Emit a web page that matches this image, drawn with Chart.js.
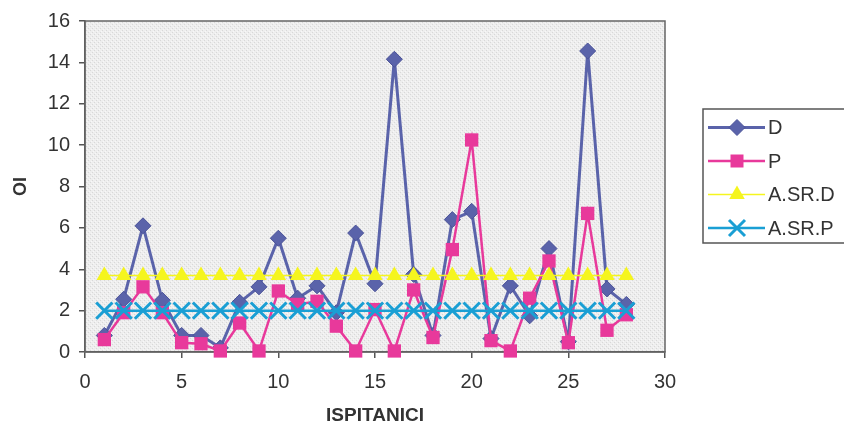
<!DOCTYPE html>
<html>
<head>
<meta charset="utf-8">
<script src="https://cdn.jsdelivr.net/npm/chart.js@4.4.0/dist/chart.umd.min.js"></script>
<style>
  html, body { margin: 0; padding: 0; background: #ffffff; }
  canvas { display: block; }
</style>
</head>
<body>
<canvas id="c" width="844" height="428"></canvas>
<script>
// ---- data ----
const xValues = [1, 2, 3, 4, 5, 6, 7, 8, 9, 10, 11, 12, 13, 14, 15, 16, 17, 18, 19, 20, 21, 22, 23, 24, 25, 26, 27, 28];
const dValues = [0.8, 2.55, 6.1, 2.5, 0.8, 0.8, 0.2, 2.4, 3.15, 5.5, 2.6, 3.2, 1.9, 5.75, 3.3, 14.15, 3.75, 0.8, 6.4, 6.8, 0.65, 3.2, 1.75, 5.0, 0.5, 14.55, 3.05, 2.3];
const pValues = [0.6, 1.9, 3.15, 1.9, 0.45, 0.4, 0.05, 1.4, 0.05, 2.95, 2.3, 2.45, 1.25, 0.05, 2.05, 0.05, 3.0, 0.7, 4.95, 10.25, 0.55, 0.05, 2.6, 4.4, 0.45, 6.7, 1.05, 1.8];
const asrDValues = [3.7, 3.7, 3.7, 3.7, 3.7, 3.7, 3.7, 3.7, 3.7, 3.7, 3.7, 3.7, 3.7, 3.7, 3.7, 3.7, 3.7, 3.7, 3.7, 3.7, 3.7, 3.7, 3.7, 3.7, 3.7, 3.7, 3.7, 3.7];
const asrPValues = [2.0, 2.0, 2.0, 2.0, 2.0, 2.0, 2.0, 2.0, 2.0, 2.0, 2.0, 2.0, 2.0, 2.0, 2.0, 2.0, 2.0, 2.0, 2.0, 2.0, 2.0, 2.0, 2.0, 2.0, 2.0, 2.0, 2.0, 2.0];
const seriesNames = ['D', 'P', 'A.SR.D', 'A.SR.P'];
const xTitle = 'ISPITANICI';
const yTitle = 'OI';

const FONT = '"Liberation Sans", Arial, sans-serif';
const COL_D = '#5a63aa';
const COL_P = '#e8399b';
const COL_Y = '#f5f51e';
const COL_C = '#1a9fd4';

function pts(vals) { return xValues.map((x, i) => ({ x: x, y: vals[i] })); }

// plot background pattern
const pat = document.createElement('canvas');
pat.width = 4; pat.height = 4;
const pctx = pat.getContext('2d');
pctx.fillStyle = '#eeeeee'; pctx.fillRect(0, 0, 4, 4);
pctx.fillStyle = '#d8d8d8';
pctx.fillRect(0, 0, 1, 1); pctx.fillRect(2, 2, 1, 1);
pctx.fillStyle = '#f7f7f7';
pctx.fillRect(1, 3, 1, 1); pctx.fillRect(3, 1, 1, 1);

function drawMarker(ctx, style, x, y, fill, stroke) {
  ctx.save();
  ctx.fillStyle = fill; ctx.strokeStyle = stroke;
  ctx.beginPath();
  if (style === 'diamond') {
    const r = 8;
    ctx.moveTo(x, y - r); ctx.lineTo(x + r, y); ctx.lineTo(x, y + r); ctx.lineTo(x - r, y); ctx.closePath();
    ctx.fill(); ctx.lineWidth = 1; ctx.stroke();
  } else if (style === 'square') {
    const s = 6.5;
    ctx.rect(x - s, y - s, 2 * s, 2 * s); ctx.fill();
  } else if (style === 'triangle') {
    const r = 9;
    ctx.moveTo(x, y - r); ctx.lineTo(x + r * 0.866, y + r * 0.5); ctx.lineTo(x - r * 0.866, y + r * 0.5); ctx.closePath();
    ctx.fill();
  } else if (style === 'cross') {
    const r = 8;
    ctx.lineWidth = 3;
    ctx.moveTo(x - r, y - r); ctx.lineTo(x + r, y + r);
    ctx.moveTo(x + r, y - r); ctx.lineTo(x - r, y + r);
    ctx.stroke();
  }
  ctx.restore();
}

const framePlugin = {
  id: 'frame',
  beforeDraw(chart) {
    const { ctx, chartArea: a } = chart;
    ctx.save();
    ctx.fillStyle = ctx.createPattern(pat, 'repeat');
    ctx.fillRect(a.left, a.top, a.right - a.left, a.bottom - a.top);
    ctx.restore();
  },
  beforeDatasetsDraw(chart) {
    const { ctx, chartArea: a } = chart;
    ctx.save();
    ctx.strokeStyle = '#666';
    ctx.lineWidth = 1.5;
    ctx.strokeRect(a.left, a.top, a.right - a.left, a.bottom - a.top);
    ctx.restore();
  },
  afterDraw(chart) {
    const ctx = chart.ctx;
    ctx.save();
    // legend box
    ctx.strokeStyle = '#555';
    ctx.lineWidth = 1.5;
    ctx.strokeRect(703, 109, 160, 134);
    const items = [
      { name: seriesNames[0], color: COL_D, lw: 3, style: 'diamond', fill: COL_D, stroke: '#4a5298' },
      { name: seriesNames[1], color: COL_P, lw: 2.5, style: 'square', fill: COL_P, stroke: COL_P },
      { name: seriesNames[2], color: COL_Y, lw: 1.5, style: 'triangle', fill: COL_Y, stroke: COL_Y },
      { name: seriesNames[3], color: COL_C, lw: 2.5, style: 'cross', fill: COL_C, stroke: COL_C }
    ];
    ctx.font = '20px ' + FONT;
    ctx.textBaseline = 'middle';
    ctx.textAlign = 'left';
    items.forEach((it, i) => {
      const y = 127.5 + i * 33.5;
      ctx.strokeStyle = it.color; ctx.lineWidth = it.lw;
      ctx.beginPath(); ctx.moveTo(708, y); ctx.lineTo(765, y); ctx.stroke();
      drawMarker(ctx, it.style, 737, y, it.fill, it.stroke);
      ctx.fillStyle = '#333';
      ctx.fillText(it.name, 768, y + 1);
    });
    ctx.restore();
  }
};

new Chart(document.getElementById('c'), {
  type: 'scatter',
  data: {
    datasets: [
      { label: seriesNames[0], data: pts(dValues), showLine: true, order: 4, clip: false,
        borderColor: COL_D, borderWidth: 3, backgroundColor: COL_D,
        pointStyle: 'rectRot', pointRadius: 8, pointBorderColor: '#4a5298', pointBorderWidth: 1, pointBackgroundColor: COL_D },
      { label: seriesNames[1], data: pts(pValues), showLine: true, order: 3, clip: false,
        borderColor: COL_P, borderWidth: 2.5, backgroundColor: COL_P,
        pointStyle: 'rect', pointRadius: 9.4, pointBorderColor: COL_P, pointBorderWidth: 0, pointBackgroundColor: COL_P },
      { label: seriesNames[2], data: pts(asrDValues), showLine: true, order: 2, clip: false,
        borderColor: COL_Y, borderWidth: 1.5, backgroundColor: COL_Y,
        pointStyle: 'triangle', pointRadius: 9, pointBorderColor: COL_Y, pointBorderWidth: 0, pointBackgroundColor: COL_Y },
      { label: seriesNames[3], data: pts(asrPValues), showLine: true, order: 1, clip: false,
        borderColor: COL_C, borderWidth: 2.5, backgroundColor: COL_C,
        pointStyle: 'crossRot', pointRadius: 11.5, pointBorderColor: COL_C, pointBorderWidth: 3, pointBackgroundColor: COL_C }
    ]
  },
  options: {
    responsive: false,
    animation: false,
    devicePixelRatio: 1,
    layout: { padding: { left: 0, right: 179, top: 21, bottom: 0 } },
    plugins: { legend: { display: false }, tooltip: { enabled: false } },
    scales: {
      x: {
        type: 'linear', min: 0, max: 30,
        afterFit(s) { s.height = 76; },
        ticks: { stepSize: 5, color: '#333', font: { family: FONT, size: 20 }, padding: 12, maxRotation: 0 },
        grid: { display: true, drawOnChartArea: false, drawTicks: true, tickLength: 6, color: '#555', lineWidth: 1.5 },
        border: { display: true, color: '#555', width: 1.5 },
        title: { display: true, text: xTitle, color: '#333', font: { family: FONT, size: 19, weight: 'bold' }, padding: { top: 0, bottom: 1 } }
      },
      y: {
        type: 'linear', min: 0, max: 16,
        afterFit(s) { s.width = 85; },
        ticks: { stepSize: 2, color: '#333', font: { family: FONT, size: 20 }, padding: 9 },
        grid: { display: true, drawOnChartArea: false, drawTicks: true, tickLength: 6, color: '#555', lineWidth: 1.5 },
        border: { display: true, color: '#555', width: 1.5 },
        title: { display: true, text: yTitle, color: '#333', font: { family: FONT, size: 18, weight: 'bold' }, padding: { top: 10, bottom: 0 } }
      }
    }
  },
  plugins: [framePlugin]
});
</script>
</body>
</html>
